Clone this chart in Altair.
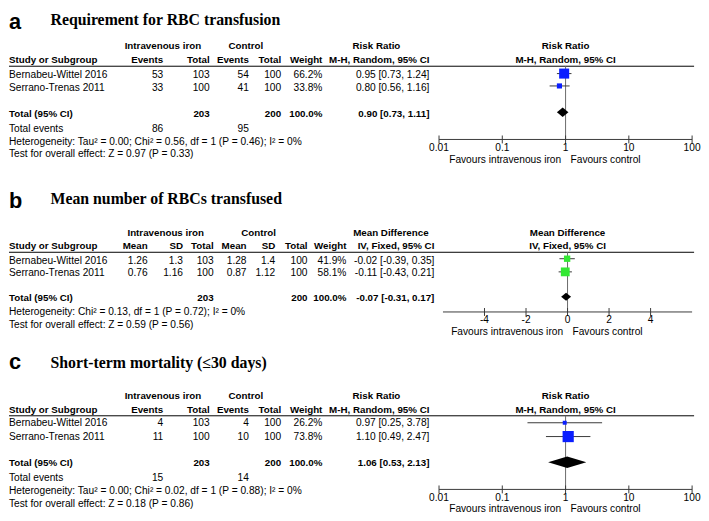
import altair as alt
import pandas as pd

W = 693
U = 13.3
SANS = "Liberation Sans"
SERIF = "Liberation Serif"
FS = 10.3
FSB = 9.9

studies = ["Bernabeu-Wittel 2016", "Serrano-Trenas 2011"]

# ---------------- Panel a ----------------
a_title = "Requirement for RBC transfusion"
a_iv_events = [53, 33]
a_iv_total = [103, 100]
a_ct_events = [54, 41]
a_ct_total = [100, 100]
a_weight = [66.2, 33.8]
a_est = [0.95, 0.80]
a_lo = [0.73, 0.56]
a_hi = [1.24, 1.16]
a_total_n = [203, 200]
a_pooled = [0.90, 0.73, 1.11]
a_total_events = [86, 95]
a_het = "Heterogeneity: Tau² = 0.00; Chi² = 0.56, df = 1 (P = 0.46); I² = 0%"
a_test = "Test for overall effect: Z = 0.97 (P = 0.33)"

# ---------------- Panel b ----------------
b_title = "Mean number of RBCs transfused"
b_iv_mean = ["1.26", "0.76"]
b_iv_sd = ["1.3", "1.16"]
b_iv_total = [103, 100]
b_ct_mean = ["1.28", "0.87"]
b_ct_sd = ["1.4", "1.12"]
b_ct_total = [100, 100]
b_weight = [41.9, 58.1]
b_est = [-0.02, -0.11]
b_lo = [-0.39, -0.43]
b_hi = [0.35, 0.21]
b_total_n = [203, 200]
b_pooled = [-0.07, -0.31, 0.17]
b_het = "Heterogeneity: Chi² = 0.13, df = 1 (P = 0.72); I² = 0%"
b_test = "Test for overall effect: Z = 0.59 (P = 0.56)"

# ---------------- Panel c ----------------
c_title = "Short-term mortality (≤30 days)"
c_iv_events = [4, 11]
c_iv_total = [103, 100]
c_ct_events = [4, 10]
c_ct_total = [100, 100]
c_weight = [26.2, 73.8]
c_est = [0.97, 1.10]
c_lo = [0.25, 0.49]
c_hi = [3.78, 2.47]
c_total_n = [203, 200]
c_pooled = [1.06, 0.53, 2.13]
c_total_events = [15, 14]
c_het = "Heterogeneity: Tau² = 0.00; Chi² = 0.02, df = 1 (P = 0.88); I² = 0%"
c_test = "Test for overall effect: Z = 0.18 (P = 0.86)"

rr_ticks = [0.01, 0.1, 1, 10, 100]
rr_tick_labels = ["0.01", "0.1", "1", "10", "100"]
md_ticks = [-4, -2, 0, 2, 4]
md_tick_labels = ["-4", "-2", "0", "2", "4"]
favours = ["Favours intravenous iron", "Favours control"]


def fmt_ci(e, l, h):
    return f"{e:.2f} [{l:.2f}, {h:.2f}]"


def yscale(origin, H):
    return alt.Scale(domain=[-origin / U, (H - origin) / U], reverse=True, nice=False, zero=False)


def txt(cells, x, ys, align="left", bold=False, size=None, font=SANS, baseline="middle"):
    df = pd.DataFrame(cells, columns=["y", "t"])
    return alt.Chart(df).mark_text(
        align=align, baseline=baseline, font=font,
        fontSize=size or (FSB if bold else FS),
        fontWeight="bold" if bold else "normal", color="black",
    ).encode(x=alt.value(x), y=alt.Y("y:Q", scale=ys, axis=None), text="t:N")


def panel(sp):
    R = sp["rows"]
    ys = yscale(sp["origin"], sp["H"])
    xs = sp["xscale"]
    X = lambda f: alt.X(f"{f}:Q", scale=xs, axis=None)
    Y = lambda f: alt.Y(f"{f}:Q", scale=ys, axis=None)
    tb = sp.get("title_baseline", "middle")
    L = []
    L.append(txt([(R["label"], sp["label"])], 0, ys, bold=True, size=22, baseline=tb))
    L.append(txt([(R["title"], sp["title"])], 42, ys, bold=True, size=16, font=SERIF, baseline=tb))
    # study column
    L.append(txt([(R["h2"], "Study or Subgroup"), (R["tot"], "Total (95% CI)")], 0, ys, bold=True))
    reg = [(R["s1"], studies[0]), (R["s2"], studies[1]), (R["het"], sp["het"]), (R["test"], sp["test"])]
    if "ev" in R:
        reg.append((R["ev"], "Total events"))
    L.append(txt(reg, 0, ys))
    # group headers
    for x, t in sp["h1"]:
        L.append(txt([(R["h1"], t)], x, ys, align="center", bold=True))
    # numeric columns
    for c in sp["cols"]:
        bold_cells = [(R["h2"], c["h"])]
        if c.get("tot"):
            bold_cells.append((R["tot"], c["tot"]))
        L.append(txt(bold_cells, c["x"], ys, align="right", bold=True))
        reg = [(R["s1"], str(c["vals"][0])), (R["s2"], str(c["vals"][1]))]
        if c.get("ev"):
            reg.append((R["ev"], c["ev"]))
        L.append(txt(reg, c["x"], ys, align="right"))
    # forest header
    L.append(txt([(R["h1"], sp["eff1"]), (R["h2"], sp["eff2"])], sp["fh_x"], ys, align="center", bold=True))

    # header rule
    L.append(alt.Chart(pd.DataFrame({"y": [R["line"]]})).mark_rule(color="black", strokeWidth=1)
             .encode(x=alt.value(0), x2=alt.value(W), y=Y("y")))
    # null line
    L.append(alt.Chart(pd.DataFrame({"x": [sp["null"]], "y": [R["line"]], "y2": [R["axis"]]}))
             .mark_rule(color="#6a6a6a", strokeWidth=1).encode(x=X("x"), y=Y("y"), y2="y2"))
    # CIs and squares
    df = pd.DataFrame({"est": sp["est"], "lo": sp["lo"], "hi": sp["hi"], "w": sp["w"],
                       "y": [R["m1"], R["m2"]]})
    L.append(alt.Chart(df).mark_rule(color="#3a3a3a", strokeWidth=1).encode(x=X("lo"), x2="hi", y=Y("y")))
    L.append(alt.Chart(df).mark_square(color=sp["color"], opacity=1).encode(
        x=X("est"), y=Y("y"),
        size=alt.Size("w:Q", scale=alt.Scale(type="pow", exponent=2, domain=[0, 100], range=[0, 235]), legend=None)))
    # pooled diamond
    pe, pl, ph = sp["pooled"]
    m, dh = R["mt"], sp["dh"]
    dd = pd.DataFrame({"x": [pl, pe, ph], "y": [m, m - dh, m], "y2": [m, m + dh, m]})
    L.append(alt.Chart(dd).mark_area(color="black", orient="vertical", opacity=1)
             .encode(x=X("x"), y=Y("y"), y2="y2"))
    # axis
    lo_ext, hi_ext = sp["ext"]
    L.append(alt.Chart(pd.DataFrame({"a": [lo_ext], "b": [hi_ext], "y": [R["axis"]]}))
             .mark_rule(color="#3a3a3a", strokeWidth=1).encode(x=X("a"), x2="b", y=Y("y")))
    tk = pd.DataFrame({"v": sp["ticks"], "t": sp["tick_labels"],
                       "y": [R["axis"] - 0.3] * len(sp["ticks"]),
                       "y2": [R["axis"] + 0.3] * len(sp["ticks"]),
                       "yl": [R["lab"]] * len(sp["ticks"])})
    L.append(alt.Chart(tk).mark_rule(color="#3a3a3a", strokeWidth=1).encode(x=X("v"), y=Y("y"), y2="y2"))
    L.append(alt.Chart(tk).mark_text(align="center", baseline="middle", font=SANS, fontSize=FS, color="black")
             .encode(x=X("v"), y=Y("yl"), text="t:N"))
    fv = pd.DataFrame({"x": [sp["null"]], "y": [R["fav"]], "l": [favours[0]], "r": [favours[1]]})
    L.append(alt.Chart(fv).mark_text(align="right", baseline="middle", font=SANS, fontSize=FS, dx=-4.5, color="black")
             .encode(x=X("x"), y=Y("y"), text="l:N"))
    L.append(alt.Chart(fv).mark_text(align="left", baseline="middle", font=SANS, fontSize=FS, dx=5, color="black")
             .encode(x=X("x"), y=Y("y"), text="r:N"))
    return alt.layer(*L).properties(width=W, height=sp["H"])


rr_scale = alt.Scale(type="log", domain=[0.01, 100], range=[435, 691], nice=False)
md_scale = alt.Scale(type="linear", domain=[-6, 6], range=[439, 691], nice=False, zero=False)


def binary_spec(label, title, ive, ivt, cte, ctt, w, est, lo, hi, tn, pooled, tev, het, test, rows, origin, H, dh):
    return dict(
        label=label, title=title, rows=rows, origin=origin, H=H, xscale=rr_scale, null=1,
        ext=(0.01, 100), ticks=rr_ticks, tick_labels=rr_tick_labels, color="#0a1eff",
        h1=[(155.7, "Intravenous iron"), (239.5, "Control"), (371.7, "Risk Ratio")],
        cols=[
            dict(x=156, h="Events", vals=ive, ev=str(tev[0])),
            dict(x=203, h="Total", vals=ivt, tot=str(tn[0])),
            dict(x=242.7, h="Events", vals=cte, ev=str(tev[1])),
            dict(x=275.3, h="Total", vals=ctt, tot=str(tn[1])),
            dict(x=317, h="Weight", vals=[f"{v:.1f}%" for v in w], tot="100.0%"),
            dict(x=425.3, h="M-H, Random, 95% CI", vals=[fmt_ci(*z) for z in zip(est, lo, hi)],
                 tot=fmt_ci(*pooled)),
        ],
        eff1="Risk Ratio", eff2="M-H, Random, 95% CI", fh_x=563,
        est=est, lo=lo, hi=hi, w=w, pooled=pooled, het=het, test=test, dh=dh,
    )


ORIGIN_A = 35.0
rows_a = dict(label=-ORIGIN_A / U + 0.05, title=-ORIGIN_A / U + 0.05, h1=0, h2=1.0, line=1.5, s1=2.18, s2=3.14,
              tot=5.11, m1=2.06, m2=3.0, mt=5.0, ev=6.24, het=7.27, test=8.2, axis=7.07, lab=7.72, fav=8.62)
rows_b = dict(label=-2.45, title=-2.58, h1=0, h2=0.93, line=1.44, s1=2.1, s2=3.05, tot=4.94,
              m1=1.93, m2=2.93, mt=4.82, het=6.0, test=7.0, axis=5.98, lab=6.6, fav=7.5)
rows_c = dict(label=-2.58, title=-2.51, h1=0, h2=1.0, line=1.47, s1=2.0, s2=3.05, tot=5.06,
              m1=2.0, m2=3.05, mt=5.0, ev=6.19, het=7.19, test=8.2, axis=7.07, lab=7.72, fav=8.55)

spec_a = binary_spec("a", a_title, a_iv_events, a_iv_total, a_ct_events, a_ct_total, a_weight,
                     a_est, a_lo, a_hi, a_total_n, a_pooled, a_total_events, a_het, a_test,
                     rows_a, ORIGIN_A, 170, 0.37)
spec_a["title_baseline"] = "top"
spec_c = binary_spec("c", c_title, c_iv_events, c_iv_total, c_ct_events, c_ct_total, c_weight,
                     c_est, c_lo, c_hi, c_total_n, c_pooled, c_total_events, c_het, c_test,
                     rows_c, 49.0, 165, 0.44)
spec_b = dict(
    label="b", title=b_title, rows=rows_b, origin=54.0, H=170, xscale=md_scale, null=0,
    ext=(-6, 6), ticks=md_ticks, tick_labels=md_tick_labels, color="#33e833",
    h1=[(158.5, "Intravenous iron"), (252.5, "Control"), (386.3, "Mean Difference")],
    cols=[
        dict(x=140.3, h="Mean", vals=b_iv_mean),
        dict(x=176, h="SD", vals=b_iv_sd),
        dict(x=207, h="Total", vals=b_iv_total, tot=str(b_total_n[0])),
        dict(x=240.3, h="Mean", vals=b_ct_mean),
        dict(x=269.3, h="SD", vals=b_ct_sd),
        dict(x=302, h="Total", vals=b_ct_total, tot=str(b_total_n[1])),
        dict(x=341.3, h="Weight", vals=[f"{v:.1f}%" for v in b_weight], tot="100.0%"),
        dict(x=430.3, h="IV, Fixed, 95% CI", vals=[fmt_ci(*z) for z in zip(b_est, b_lo, b_hi)],
             tot=fmt_ci(*b_pooled)),
    ],
    eff1="Mean Difference", eff2="IV, Fixed, 95% CI", fh_x=565,
    est=b_est, lo=b_lo, hi=b_hi, w=b_weight, pooled=b_pooled, het=b_het, test=b_test, dh=0.31,
)

chart = alt.vconcat(panel(spec_a), panel(spec_b), panel(spec_c), spacing=0, bounds="flush").properties(
    padding=0, background="white"
).configure_view(stroke=None)

chart.save("out.html", embed_options={"renderer": "svg", "actions": False})
